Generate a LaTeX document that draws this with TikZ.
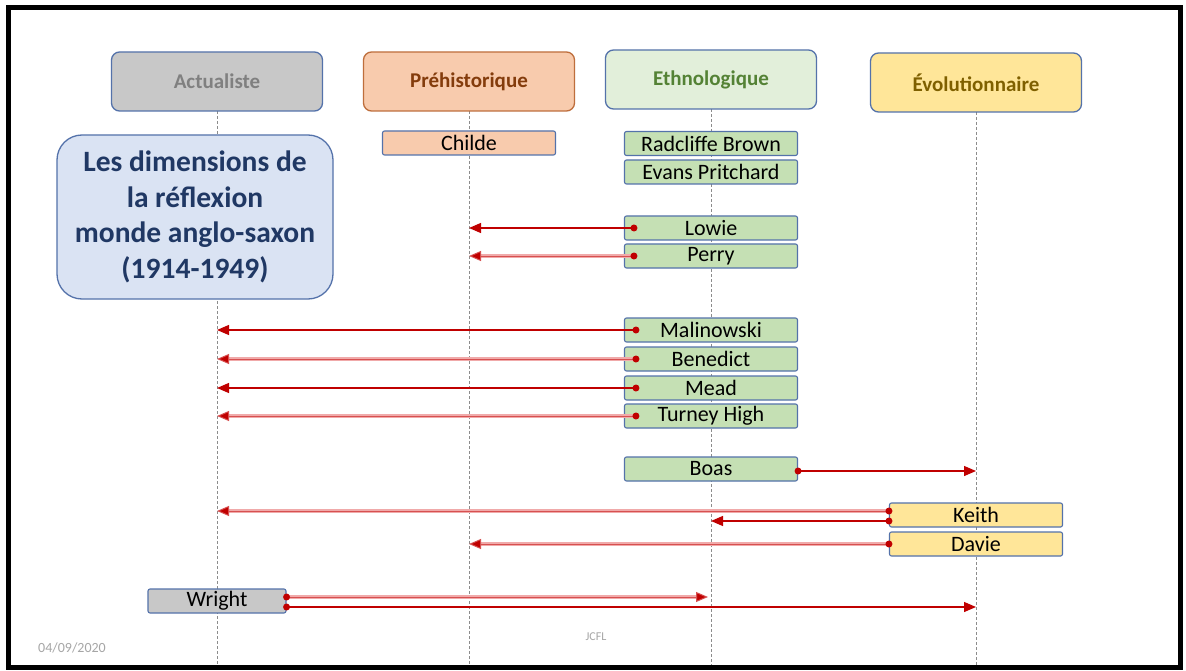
\documentclass[tikz,border=0pt]{standalone}
\usepackage{fontspec}
\setmainfont{Carlito}
\usetikzlibrary{arrows.meta}

\definecolor{bordc}{RGB}{84,114,170}
\definecolor{arrred}{RGB}{192,0,0}
\definecolor{arrmid}{RGB}{215,80,80}
\definecolor{arrpink}{RGB}{240,170,170}
\definecolor{actfill}{RGB}{200,200,200}
\definecolor{acttext}{RGB}{128,128,128}
\definecolor{prefill}{RGB}{248,203,173}
\definecolor{predraw}{RGB}{190,110,60}
\definecolor{pretext}{RGB}{132,60,12}
\definecolor{ethfill}{RGB}{226,239,218}
\definecolor{ethtext}{RGB}{84,130,53}
\definecolor{grnfill}{RGB}{197,224,180}
\definecolor{evofill}{RGB}{255,230,153}
\definecolor{evotext}{RGB}{127,96,0}
\definecolor{titfill}{RGB}{218,227,243}
\definecolor{tittext}{RGB}{32,56,100}

\tikzset{
  hdr/.style={draw=bordc, line width=1.3pt, rounded corners=8pt, minimum width=211pt, minimum height=59pt, inner sep=0pt, font=\fontsize{21}{25}\selectfont\bfseries},
  nm/.style={draw=bordc, line width=1.1pt, rounded corners=2pt, minimum width=173pt, minimum height=24pt, inner sep=0pt, font=\fontsize{22}{25}\selectfont},
  life/.style={dash pattern=on 3pt off 2pt, black!45, line width=0.8pt},
  dot/.style={circle, fill=arrred, inner sep=0pt, minimum size=7pt},
  arr/.style={draw=arrred, line width=1.3pt, -{Triangle[length=12pt,width=10pt,fill=arrred]}},
  arrl/.style={arr, draw=arrmid, line width=1pt, preaction={draw=arrpink, line width=4.5pt, -, shorten >=8pt}}
}

\begin{document}
\begin{tikzpicture}[x=1pt,y=-1pt]
\def\xa{217}
\def\xb{469}
\def\xc{711}
\def\xd{976}

\def\ybot{665}

\useasboundingbox (0,0) rectangle (1186,671);
\fill[white] (0,0) rectangle (1186,671);

\draw[life] (\xa,111) -- (\xa,\ybot);
\draw[life] (\xb,111) -- (\xb,\ybot);
\draw[life] (\xc,109) -- (\xc,\ybot);
\draw[life] (\xd,112) -- (\xd,\ybot);

\node[hdr, fill=actfill, text=acttext] (hact) at (\xa,81.5) {Actualiste};
\node[hdr, fill=prefill, draw=predraw, text=pretext] (hpre) at (\xb,81.5) {Préhistorique};
\node[hdr, fill=ethfill, text=ethtext] (heth) at (\xc,79.5) {Ethnologique};
\node[hdr, fill=evofill, text=evotext] (hevo) at (\xd,82.5) {Évolutionnaire};

\node[draw=bordc, line width=1.3pt, fill=titfill, text=tittext, rounded corners=25pt,
      minimum width=276pt, minimum height=164pt, align=center,
      font=\fontsize{29.5}{35.5}\selectfont\bfseries] (titre) at (195,217)
  {Les dimensions de\\la réflexion\\monde anglo-saxon\\(1914-1949)};

\node[nm, fill=prefill] (childe) at (\xb,143) {Childe};
\node[nm, fill=grnfill] (radcl) at (\xc,143.5) {Radcliffe Brown};
\node[nm, fill=grnfill] (evans) at (\xc,172) {Evans Pritchard};
\node[nm, fill=grnfill] (lowie) at (\xc,228) {Lowie};
\node[nm, fill=grnfill] (perry) at (\xc,256) {Perry};
\node[nm, fill=grnfill] (malin) at (\xc,330) {Malinowski};
\node[nm, fill=grnfill] (bened) at (\xc,359) {Benedict};
\node[nm, fill=grnfill] (mead) at (\xc,388) {Mead};
\node[nm, fill=grnfill] (turney) at (\xc,416) {Turney High};
\node[nm, fill=grnfill] (boas) at (\xc,469) {Boas};
\node[nm, fill=evofill] (keith) at (\xd,515) {Keith};
\node[nm, fill=evofill] (davie) at (\xd,544) {Davie};
\node[nm, fill=actfill, minimum width=138pt] (wright) at (\xa,601) {Wright};

\draw[arr] ([xshift=10pt]lowie.west) node[dot] {} -- (lowie -| hpre);
\draw[arrl] ([xshift=10pt]perry.west) node[dot] {} -- (perry -| hpre);

\draw[arr] ([xshift=12pt]malin.west) node[dot] {} -- (malin -| hact);
\draw[arrl] ([xshift=12pt]bened.west) node[dot] {} -- (bened -| hact);
\draw[arr] ([xshift=12pt]mead.west) node[dot] {} -- (mead -| hact);
\draw[arrl] ([xshift=12pt]turney.west) node[dot] {} -- (turney -| hact);

\coordinate (b1) at ([yshift=-2pt]boas.east);
\draw[arr] (b1) node[dot] {} -- (b1 -| hevo);

\coordinate (k1) at ([yshift=4pt]keith.west);
\coordinate (k2) at ([yshift=-6pt]keith.west);
\draw[arrl] (k1) node[dot] {} -- (k1 -| hact);
\draw[arr] (k2) node[dot] {} -- (k2 -| heth);
\draw[arrl] (davie.west) node[dot] {} -- (davie -| hpre);

\coordinate (w1) at ([yshift=4pt]wright.east);
\coordinate (w2) at ([yshift=-6pt]wright.east);
\draw[arrl] (w1) node[dot] {} -- ([xshift=-3pt]w1 -| heth);
\draw[arr] (w2) node[dot] {} -- (w2 -| hevo);

\node[text=black!35, font=\fontsize{14}{16}\selectfont] (date) at (72,648) {04/09/2020};
\node[text=black!35, font=\fontsize{12}{14}\selectfont] (jcfl) at (596,637) {JCFL};

\draw[line width=5pt] (8,8) rectangle (1180,667);
\end{tikzpicture}
\end{document}
